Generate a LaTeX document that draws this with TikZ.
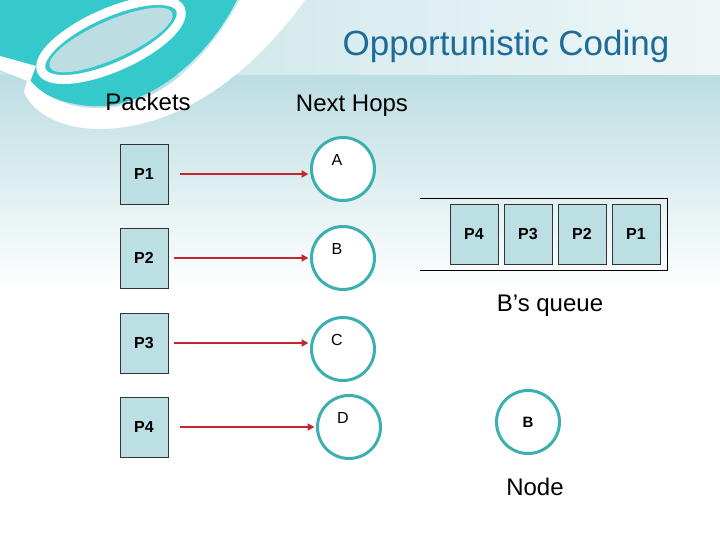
\documentclass[tikz,border=0pt]{standalone}
\usepackage{fontspec}
\setmainfont{Liberation Sans}
\usepackage{tikz}
\usetikzlibrary{arrows.meta,positioning,calc}
\usepackage{xcolor}
\definecolor{SlideTeal}{HTML}{35C9CB}
\definecolor{SlidePale}{HTML}{BCDDE2}
\definecolor{BandLeft}{HTML}{C6E3E7}
\definecolor{BandRight}{HTML}{EEF6F7}
\definecolor{PacketFill}{HTML}{BCDFE3}
\definecolor{HopRing}{HTML}{3BAFB1}
\definecolor{ArrowRed}{HTML}{C4262B}
\definecolor{TitleBlue}{HTML}{1D6B98}

\begin{document}
\begin{tikzpicture}[x=1pt,y=-1pt,
  packet/.style={draw=black!80,fill=PacketFill,line width=0.8pt,minimum width=48pt,minimum height=60pt,inner sep=0pt,font=\fontsize{16}{18}\selectfont\bfseries},
  hop/.style={circle,draw=HopRing,line width=3pt,fill=white,minimum size=63pt,inner sep=0pt},
  hoptxt/.style={font=\fontsize{16}{18}\selectfont},
  heading/.style={font=\fontsize{24}{28}\selectfont},
  send/.style={draw=ArrowRed,line width=2.4pt,-{Triangle[length=7pt,width=7pt]},shorten >=1.5pt}]
\useasboundingbox (0,0) rectangle (720,540);
% background
\fill[white] (0,0) rectangle (720,540);
\shade[top color=SlidePale,bottom color=white] (0,75) rectangle (720,290);
\shade[left color=BandLeft,right color=BandRight] (0,0) rectangle (720,75);
% swoosh in the corner
\fill[SlideTeal] (0,0) -- (237,0) .. controls (215,45) and (165,100) .. (105,106)
  .. controls (70,108) and (40,95) .. (28,80) -- (0,62) -- cycle;
\draw[white,line width=9pt,rotate around={24:(111,40)}] (111,40) ellipse [x radius=76,y radius=27];
\fill[SlidePale,rotate around={24:(111,40)}] (111,40) ellipse [x radius=67,y radius=19];
\fill[white] (28,78) .. controls (45,100) and (75,110) .. (105,108)
  .. controls (170,104) and (215,45) .. (240,0) -- (305,0)
  .. controls (262,60) and (190,128) .. (100,129)
  .. controls (60,129) and (32,112) .. (24,92) -- cycle;
\fill[white] (0,56) -- (36,66) -- (30,82) -- (0,70) -- cycle;

% headings
\node[font=\fontsize{35}{40}\selectfont,text=TitleBlue] (title) at (506,46) {Opportunistic Coding};
\node[heading] (pkts) at (148,102) {Packets};
\node[heading] (hops) at (352,106) {Next Hops};

% packets and next hops
\node[packet] (p1) at (144,174) {P1};
\node[packet] (p2) at (144,258) {P2};
\node[packet] (p3) at (144,343) {P3};
\node[packet] (p4) at (144,427) {P4};
\node[hop] (a) at (343,169) {};
\node[hop] (b) at (343,258) {};
\node[hop] (c) at (343,349) {};
\node[hop] (d) at (349,427) {};
\node[hoptxt] at ([shift={(-6,-9)}]a.center) {A};
\node[hoptxt] at ([shift={(-6,-9)}]b.center) {B};
\node[hoptxt] at ([shift={(-6,-9)}]c.center) {C};
\node[hoptxt] at ([shift={(-6,-9)}]d.center) {D};
\draw[send] ([xshift=12pt]p1.east) -- (p1.east -| a.west);
\draw[send] ([xshift=6pt]p2.east) -- (p2.east -| b.west);
\draw[send] ([xshift=6pt]p3.east) -- (p3.east -| c.west);
\draw[send] ([xshift=12pt]p4.east) -- (p4.east -| d.west);

% B's queue
\node[packet] (q4) at (474,234) {P4};
\node[packet] (q3) at (528,234) {P3};
\node[packet] (q2) at (582,234) {P2};
\node[packet] (q1) at (636,234) {P1};
\draw[line width=0.9pt] (420,198) -- (667,198) -- (667,270) -- (420,270);
\node[heading] (qlbl) at (550,306) {B’s queue};

% the node
\node[hop,font=\fontsize{15}{17}\selectfont\bfseries] (nb) at (528,422) {B};
\node[heading] (nlbl) at (535,487) {Node};
\end{tikzpicture}
\end{document}
